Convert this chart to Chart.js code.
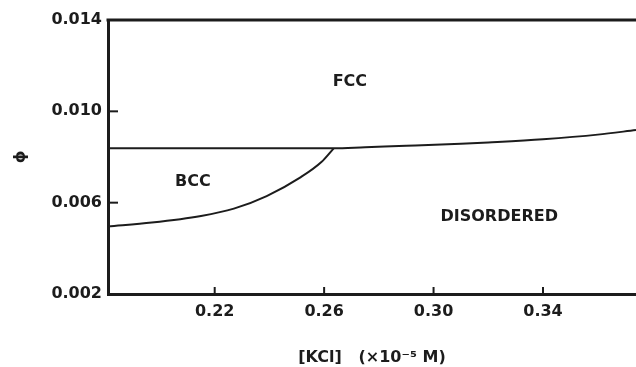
<!DOCTYPE html>
<html>
<head>
<meta charset="utf-8">
<script src="https://cdn.jsdelivr.net/npm/chart.js@4"></script>
<style>
  html, body { margin: 0; padding: 0; background: #fff; }
  #wrap { width: 636px; height: 367px; }
</style>
</head>
<body>
<div id="wrap"><canvas id="phaseChart" width="636" height="367"></canvas></div>
<script>
// Límite FCC (línea superior)
const fccX = [0.181, 0.2635, 0.275, 0.29, 0.31, 0.32, 0.34, 0.36, 0.374];
const fccY = [0.00838, 0.00838, 0.00843, 0.00849, 0.00858, 0.00864, 0.00878, 0.00898, 0.00918];

// Límite BCC / desordenado (curva inferior)
const bccX = [0.181, 0.197, 0.215, 0.227, 0.239, 0.2515, 0.259, 0.2635];
const bccY = [0.00496, 0.00513, 0.00542, 0.00574, 0.00629, 0.00712, 0.00778, 0.00838];

// Ticks de los ejes
const xTicks = [0.22, 0.26, 0.30, 0.34];
const yTicks = [0.002, 0.006, 0.010, 0.014];

// Etiquetas de las fases
const regionLabels = ['FCC', 'BCC', 'DISORDERED'];
const regionX = [0.2694, 0.212, 0.324];
const regionY = [0.01128, 0.0069, 0.00537];

const INK = '#1c1c1c';
const FONT = 'DejaVu Sans';

function toPoints(xs, ys) {
  return xs.map((x, i) => ({ x: x, y: ys[i] }));
}

// Marco superior, ticks hacia dentro y etiquetas de fase
const phasePlugin = {
  id: 'phasePlugin',
  afterDraw(chart) {
    const ctx = chart.ctx;
    const area = chart.chartArea;
    const xs = chart.scales.x;
    const ys = chart.scales.y;
    ctx.save();
    ctx.strokeStyle = INK;

    // línea superior del marco
    ctx.lineWidth = 3;
    ctx.beginPath();
    ctx.moveTo(area.left - 1.5, area.top);
    ctx.lineTo(area.right, area.top);
    ctx.stroke();

    // ticks interiores
    ctx.lineWidth = 2;
    yTicks.slice(1, -1).forEach(v => {
      const py = ys.getPixelForValue(v);
      ctx.beginPath();
      ctx.moveTo(area.left, py);
      ctx.lineTo(area.left + 10, py);
      ctx.stroke();
    });
    xTicks.forEach(v => {
      const px = xs.getPixelForValue(v);
      ctx.beginPath();
      ctx.moveTo(px, area.bottom);
      ctx.lineTo(px, area.bottom - 7);
      ctx.stroke();
    });

    // nombres de las fases
    ctx.fillStyle = INK;
    ctx.font = 'bold 16px "' + FONT + '"';
    ctx.textAlign = 'center';
    ctx.textBaseline = 'middle';
    regionLabels.forEach((label, i) => {
      ctx.fillText(label, xs.getPixelForValue(regionX[i]), ys.getPixelForValue(regionY[i]));
    });
    ctx.restore();
  }
};

const lineStyle = {
  showLine: true,
  pointRadius: 0,
  borderColor: INK,
  borderWidth: 2,
  cubicInterpolationMode: 'monotone',
  fill: false
};

const labelFont = { family: FONT, size: 16, weight: 'bold' };

new Chart(document.getElementById('phaseChart'), {
  type: 'scatter',
  data: {
    datasets: [
      Object.assign({ label: 'FCC', data: toPoints(fccX, fccY) }, lineStyle),
      Object.assign({ label: 'BCC', data: toPoints(bccX, bccY) }, lineStyle)
    ]
  },
  options: {
    responsive: false,
    animation: false,
    layout: { padding: { top: 20, right: 0, left: 0, bottom: 0 } },
    plugins: {
      legend: { display: false },
      tooltip: { enabled: false }
    },
    scales: {
      x: {
        type: 'linear',
        min: 0.181,
        max: 0.374,
        afterBuildTicks: scale => { scale.ticks = xTicks.map(v => ({ value: v })); },
        afterFit: scale => { scale.height = 73; },
        grid: { display: false, drawTicks: false },
        border: { display: true, color: INK, width: 3 },
        ticks: {
          padding: 8,
          color: INK,
          font: labelFont,
          callback: v => v.toFixed(2)
        },
        title: {
          display: true,
          text: '[KCl]   (×10⁻⁵ M)',
          color: INK,
          font: labelFont,
          padding: { top: 0, bottom: 0 }
        }
      },
      y: {
        type: 'linear',
        min: 0.002,
        max: 0.014,
        afterBuildTicks: scale => { scale.ticks = yTicks.map(v => ({ value: v })); },
        afterFit: scale => { scale.width = 108; },
        grid: { display: false, drawTicks: false },
        border: { display: true, color: INK, width: 3 },
        ticks: {
          padding: 6,
          color: INK,
          font: labelFont,
          callback: v => v.toFixed(3)
        },
        title: {
          display: true,
          text: 'ϕ',
          color: INK,
          font: labelFont,
          padding: { top: 11, bottom: 0 }
        }
      }
    }
  },
  plugins: [phasePlugin]
});
</script>
</body>
</html>
